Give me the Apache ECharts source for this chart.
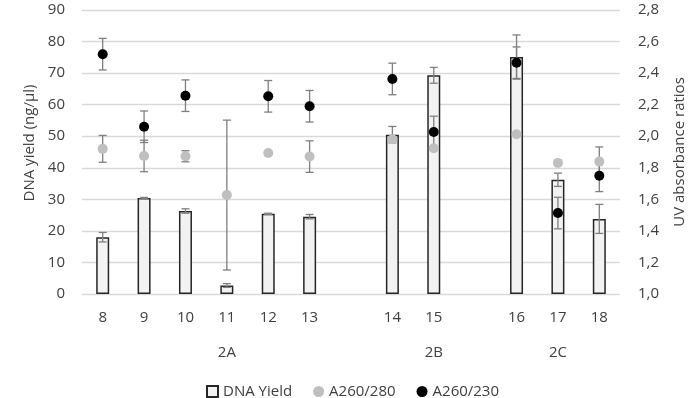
<!DOCTYPE html>
<html>
<head>
<meta charset="utf-8">
<script src="https://cdn.jsdelivr.net/npm/echarts@6/dist/echarts.min.js"></script>
<style>
  html, body { margin: 0; padding: 0; background: #fff; }
  #chart { width: 689px; height: 398px; }
</style>
</head>
<body>
<div id="chart"></div>
<script>
// categories (blank slots make the gaps between groups)
let samples = ['8', '9', '10', '11', '12', '13', '', '14', '15', '', '16', '17', '18'];
let groups = ['', '', '', '2A', '', '', '', '', '2B', '', '', '2C', ''];

// DNA yield (ng/µl) and its error
let dnaYield = [18.0, 30.4, 26.3, 2.7, 25.4, 24.5, null, 50.5, 69.3, null, 75.1, 36.2, 23.8];
let dnaErr = [1.5, 0.2, 0.7, 0.6, 0.2, 0.7, null, 2.6, 2.5, null, 7.0, 2.1, 4.6];

// absorbance ratios and errors
let a280 = [1.92, 1.875, 1.873, 1.627, 1.894, 1.871, null, 1.981, 1.924, null, 2.013, 1.831, 1.839];
let a280Err = [0.085, 0.1, 0.035, 0.475, 0, 0.1, null, 0, 0, null, 0, 0, 0.093];
let a230 = [2.52, 2.06, 2.257, null, 2.253, 2.19, null, 2.363, 2.027, null, 2.466, 1.513, 1.749];
let a230Err = [0.1, 0.1, 0.1, null, 0.1, 0.1, null, 0.1, 0.1, null, 0.1, 0.1, 0.1];

let dom = document.getElementById('chart');
let myChart = echarts.init(dom, null, { renderer: 'canvas' });

const font = 'Open Sans';
const txt = '#404040';

function errData(vals, errs) {
  let out = [];
  vals.forEach((v, i) => {
    if (v != null && errs[i]) out.push([i, v - errs[i], v + errs[i]]);
  });
  return out;
}

function errSeries(vals, errs, yIdx) {
  return {
    type: 'custom',
    yAxisIndex: yIdx,
    z: 3,
    silent: true,
    data: errData(vals, errs),
    renderItem: function (params, api) {
      let lo = api.coord([api.value(0), api.value(1)]);
      let hi = api.coord([api.value(0), api.value(2)]);
      let w = 4;
      let st = { stroke: '#7f7f7f', lineWidth: 1.3 };
      return {
        type: 'group',
        children: [
          { type: 'line', shape: { x1: lo[0], y1: lo[1], x2: hi[0], y2: hi[1] }, style: st },
          { type: 'line', shape: { x1: lo[0] - w, y1: lo[1], x2: lo[0] + w, y2: lo[1] }, style: st },
          { type: 'line', shape: { x1: hi[0] - w, y1: hi[1], x2: hi[0] + w, y2: hi[1] }, style: st }
        ]
      };
    }
  };
}

let option = {
  textStyle: { fontFamily: font },
  animation: false,
  grid: { left: 82, right: 69, top: 10, bottom: 104, outerBoundsMode: 'none' },
  legend: {
    left: 201,
    top: 379,
    itemWidth: 11,
    itemHeight: 11,
    itemGap: 21,
    textStyle: { fontSize: 15, color: txt, fontFamily: font },
    data: [
      { name: 'DNA Yield', icon: 'rect' },
      { name: 'A260/280', icon: 'circle' },
      { name: 'A260/230', icon: 'circle' }
    ]
  },
  xAxis: [
    {
      type: 'category',
      data: samples,
      axisLine: { show: false },
      axisTick: { show: false },
      axisLabel: { fontSize: 15, color: txt, margin: 16 }
    },
    {
      type: 'category',
      data: groups,
      position: 'bottom',
      offset: 35,
      axisLine: { show: false },
      axisTick: { show: false },
      axisLabel: { fontSize: 15, color: txt, margin: 16, interval: 0 }
    }
  ],
  yAxis: [
    {
      type: 'value',
      min: 0,
      max: 90,
      interval: 10,
      name: 'DNA yield (ng/µl)',
      nameLocation: 'middle',
      nameGap: 45,
      nameTextStyle: { fontSize: 15, color: txt, padding: [0, 0, 0, 18] },
      axisLabel: { fontSize: 15, color: txt, margin: 17 },
      axisLine: { show: false },
      axisTick: { show: false },
      splitLine: { lineStyle: { color: '#d9d9d9', width: 1.3 } }
    },
    {
      type: 'value',
      min: 1.0,
      max: 2.8,
      interval: 0.2,
      name: 'UV absorbance ratios',
      nameLocation: 'middle',
      nameGap: 52,
      nameRotate: 90,
      nameTextStyle: { fontSize: 15, color: txt },
      axisLabel: {
        fontSize: 15, color: txt, margin: 18,
        formatter: v => v.toFixed(1).replace('.', ',')
      },
      axisLine: { show: false },
      axisTick: { show: false },
      splitLine: { show: false }
    }
  ],
  series: [
    {
      name: 'DNA Yield',
      type: 'bar',
      yAxisIndex: 0,
      barWidth: 13,
      z: 2,
      itemStyle: { color: '#f2f2f2', borderColor: '#262626', borderWidth: 1.5 },
      data: dnaYield
    },
    errSeries(dnaYield, dnaErr, 0),
    errSeries(a280, a280Err, 1),
    errSeries(a230, a230Err, 1),
    {
      name: 'A260/280',
      type: 'scatter',
      yAxisIndex: 1,
      symbolSize: 10,
      z: 4,
      itemStyle: { color: '#bfbfbf', opacity: 1 },
      data: a280
    },
    {
      name: 'A260/230',
      type: 'scatter',
      yAxisIndex: 1,
      symbolSize: 10,
      z: 5,
      itemStyle: { color: '#000000', opacity: 1 },
      data: a230
    }
  ]
};

myChart.setOption(option);
window.addEventListener('resize', myChart.resize);
</script>
</body>
</html>
